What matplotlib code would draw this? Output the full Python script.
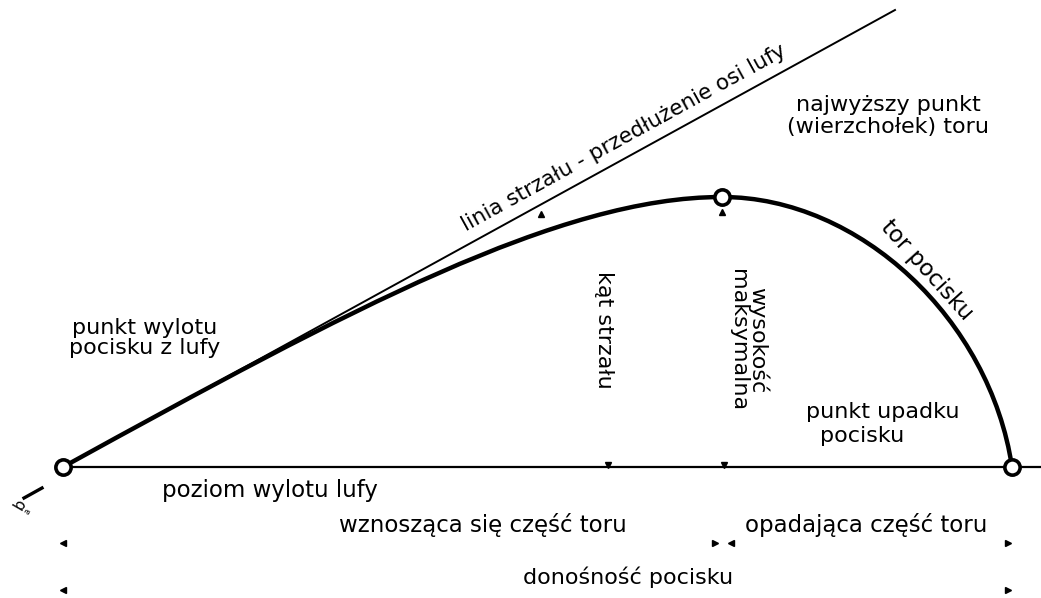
import matplotlib
matplotlib.use("Agg")
import matplotlib.pyplot as plt
from matplotlib.path import Path
import matplotlib.patches as patches

plt.rcParams["font.family"] = ["DejaVu Sans"]

# diagram geometry (pixel coords, y grows downwards)
launch = (63, 467)
apex = (722, 197)
impact = (1012, 467)
fire_line_end = (895, 10)
ground_x = (63, 1041)

# cubic bezier control points of the trajectory
rise_ctrl = [(350, 309), (560, 197)]
fall_ctrl = [(860, 197), (990, 320)]

# small arrow heads: (x, y, marker)
arrow_marks = [
    (63, 543, "<"), (715, 543, ">"), (731, 543, "<"), (1008, 543, ">"),
    (63, 590, "<"), (1008, 590, ">"),
    (608, 465, "v"), (724, 465, "v"),
    (722, 212, "^"), (541, 214, "^"),
]

labels = [
    # text, x, y, rotation, size, line spacing
    ("linia strzału - przedłużenie osi lufy", 624, 138, 28.8, 15.5, 1.0),
    ("najwyższy punkt\n(wierzchołek) toru", 888, 116, 0, 16, 1.12),
    ("tor pocisku", 927, 270, -48, 16.5, 1.0),
    ("punkt wylotu\npocisku z lufy", 145, 338, 0, 16, 1.0),
    ("kąt strzału", 604, 330, -90, 16, 1.0),
    ("wysokość\nmaksymalna", 748, 340, -90, 16, 0.95),
    ("poziom wylotu lufy", 270, 490, 0, 16.5, 1.0),
    ("wznosząca się część toru", 483, 525, 0, 16.5, 1.0),
    ("opadająca część toru", 866, 525, 0, 16.5, 1.0),
    ("donośność pocisku", 628, 577, 0, 16, 1.0),
]

fig = plt.figure(figsize=(10.41, 5.98), dpi=100)
ax = fig.add_axes([0, 0, 1, 1])
ax.set_xlim(0, 1041)
ax.set_ylim(598, 0)
ax.axis("off")

# ground level and line of fire
ax.plot(ground_x, [launch[1], launch[1]], color="black", lw=1.6, zorder=2)
ax.plot([launch[0], fire_line_end[0]], [launch[1], fire_line_end[1]],
        color="black", lw=1.4, zorder=2)

# trajectory
verts = [launch, *rise_ctrl, apex, *fall_ctrl, impact]
codes = [Path.MOVETO] + [Path.CURVE4] * 6
ax.add_patch(patches.PathPatch(Path(verts, codes), facecolor="none",
                               edgecolor="black", lw=3.2, zorder=3))

# key points
for px, py in (launch, apex, impact):
    ax.plot(px, py, "o", ms=11, mfc="white", mec="black", mew=2.6, zorder=5)

for x, y, m in arrow_marks:
    ax.plot(x, y, m, ms=4.5, color="black", zorder=4)

# first and second lines of "punkt upadku pocisku" are offset in the scan
ax.text(806, 412, "punkt upadku", fontsize=16, ha="left", va="center")
ax.text(820, 436, "pocisku", fontsize=16, ha="left", va="center")

for text, x, y, rot, fs, lsp in labels:
    ax.text(x, y, text, fontsize=fs, ha="center", va="center", rotation=rot,
            rotation_mode="anchor", linespacing=lsp, multialignment="center")

# scan mark near the muzzle
ax.plot([24, 42], [498, 488], color="black", lw=2.4)
ax.text(20, 505, "b", fontsize=11, rotation=60, ha="center", va="center")
ax.text(28, 512, "a", fontsize=6, rotation=60, ha="center", va="center")

fig.savefig("out.png", dpi=100)
